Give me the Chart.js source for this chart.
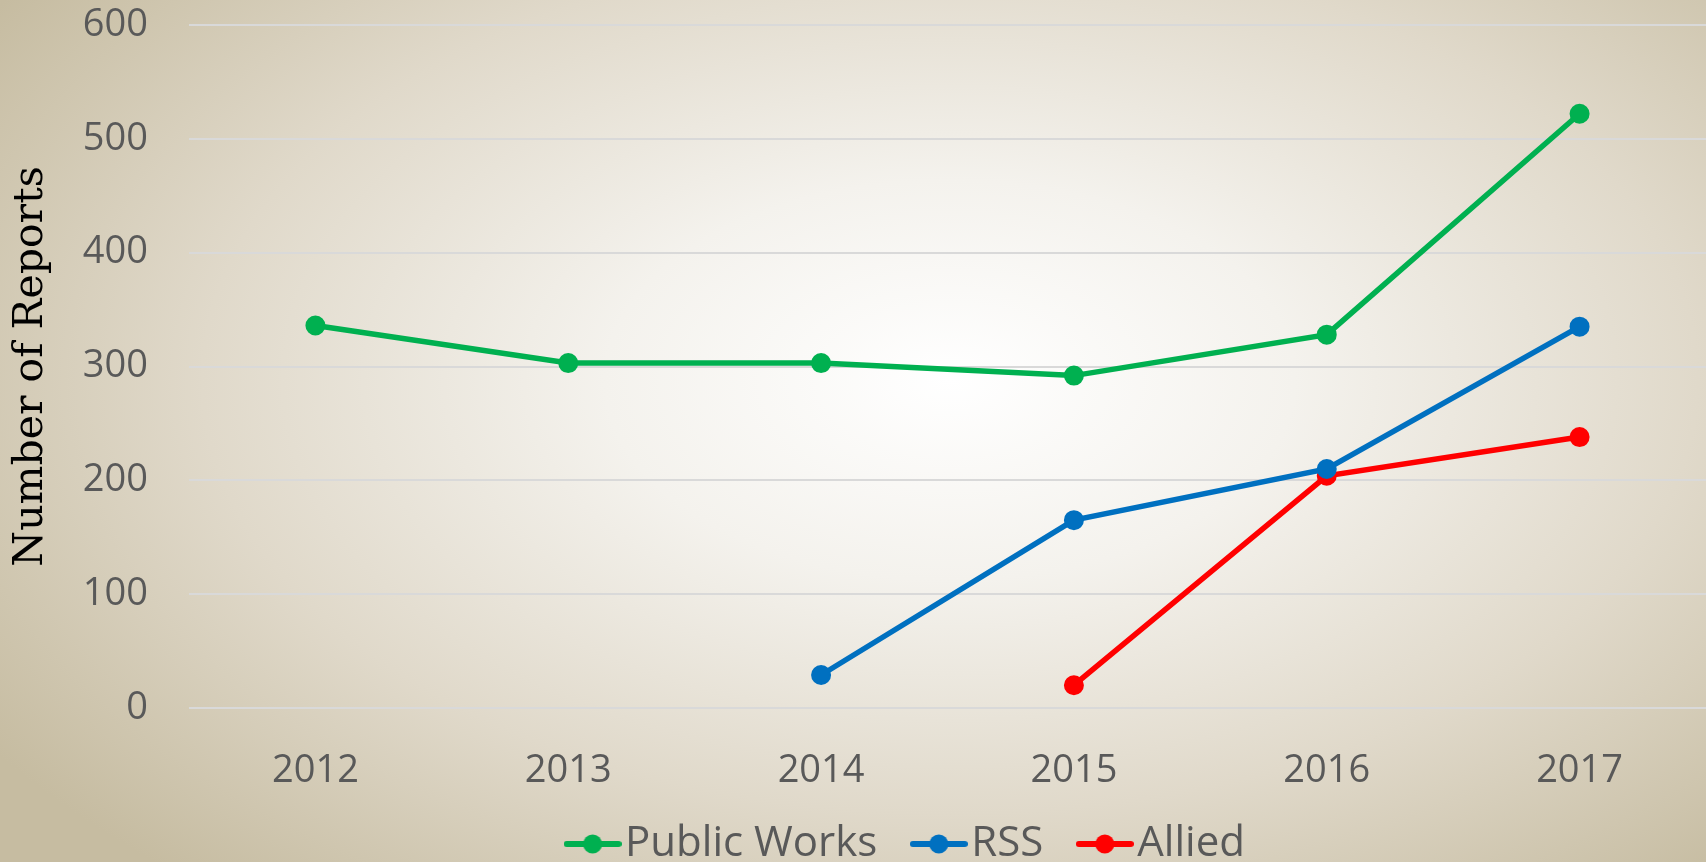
<!DOCTYPE html>
<html lang="en">
<head>
  <meta charset="UTF-8">
  <title>Number of Reports</title>
  <script src="https://cdn.jsdelivr.net/npm/chart.js"></script>
  <style>
    html, body { margin: 0; padding: 0; }
    .chart-wrap { width: 1706px; height: 862px; position: relative; }
  </style>
</head>
<body>

<div class="chart-wrap">
  <canvas id="chart"></canvas>
</div>

<script>

const years = ['2012', '2013', '2014', '2015', '2016', '2017'];
const publicWorks = [336, 303, 303, 292, 328, 522];
const rss = [null, null, 29, 165, 210, 335];
const allied = [null, null, null, 20, 204, 238];
const yTicks = [0, 100, 200, 300, 400, 500, 600];

const GREEN = '#00B050';
const BLUE = '#0070C0';
const RED = '#FF0000';

// little line-with-dot marker for the legend
function legendMarker(color){
  const c = document.createElement('canvas');
  c.width = 58;
  c.height = 22;
  const ctx = c.getContext('2d');
  ctx.strokeStyle = color;
  ctx.lineWidth = 6;
  ctx.lineCap = 'round';
  ctx.beginPath();
  ctx.moveTo(3, 11);
  ctx.lineTo(55, 11);
  ctx.stroke();
  ctx.fillStyle = color;
  ctx.beginPath();
  ctx.arc(29, 11, 9.5, 0, Math.PI * 2);
  ctx.fill();
  return c;
}

const backdrop = {
  id: 'backdrop',
  beforeDraw(chart){
    const {ctx, width, height} = chart;
    const cx = 950, cy = 380, sy = 0.58;
    ctx.save();
    ctx.translate(cx, cy);
    ctx.scale(1, sy);
    const g = ctx.createRadialGradient(0, 0, 0, 0, 0, 1150);
    g.addColorStop(0, '#ffffff');
    g.addColorStop(0.3, '#f4f2ed');
    g.addColorStop(0.65, '#e0d9ca');
    g.addColorStop(1, '#c6bca1');
    ctx.fillStyle = g;
    ctx.fillRect(-cx, -cy / sy, width, height / sy);
    ctx.restore();
  }
};

// legend sits under the plot, a bit right of the page centre, and lower than the layout puts it
const legendMove = {
  id: 'legendMove',
  afterLayout(chart){
    const lg = chart.legend;
    lg.top = 773;
    lg.bottom = chart.height;
    lg.left += 60;
    lg.right += 60;
  }
};

const data = {
  labels: years,
  datasets: [
    { label: 'Public Works', data: publicWorks, borderColor: GREEN, backgroundColor: GREEN },
    { label: 'RSS', data: rss, borderColor: BLUE, backgroundColor: BLUE },
    { label: 'Allied', data: allied, borderColor: RED, backgroundColor: RED }
  ]
};

const markers = [legendMarker(GREEN), legendMarker(BLUE), legendMarker(RED)];

const config = {
  type: 'line',
  data: data,
  plugins: [backdrop, legendMove],
  options: {
    responsive: true,
    maintainAspectRatio: false,
    animation: false,
    layout: { autoPadding: false, padding: { top: 25, right: 0, left: 0, bottom: 0 } },
    elements: {
      line: { borderWidth: 5.5, tension: 0 },
      point: { radius: 9, borderWidth: 2, hoverRadius: 9 }
    },
    plugins: {
      tooltip: { enabled: false },
      legend: {
        position: 'bottom',
        maxHeight: 74,
        labels: {
          usePointStyle: true,
          pointStyleWidth: 23,
          padding: 50,
          color: '#595959',
          font: { family: '"Open Sans"', size: 42 },
          generateLabels(chart){
            return chart.data.datasets.map((ds, i) => ({
              text: ds.label,
              pointStyle: markers[i],
              fillStyle: ds.borderColor,
              strokeStyle: ds.borderColor,
              lineWidth: 0,
              fontColor: '#595959',
              hidden: false,
              datasetIndex: i
            }));
          }
        }
      }
    },
    scales: {
      x: {
        offset: true,
        grid: { display: false },
        border: { display: false },
        ticks: {
          color: '#595959',
          padding: 32,
          font: { family: '"Open Sans"', size: 38 }
        },
        afterFit(scale){
          scale.height = 80;
          scale.paddingLeft = 0;
          scale.paddingRight = 0;
        }
      },
      y: {
        min: 0,
        max: 600,
        afterBuildTicks(scale){ scale.ticks = yTicks.map(v => ({ value: v })); },
        grid: { color: '#d9d9d9', lineWidth: 2, drawTicks: false },
        border: { display: false },
        ticks: {
          color: '#595959',
          padding: 41,
          font: { family: '"Open Sans"', size: 38 }
        },
        title: {
          display: true,
          text: 'Number of Reports',
          color: '#000000',
          padding: { top: 7, bottom: 0 },
          font: { family: '"DejaVu Serif"', size: 41 }
        },
        afterFit(scale){
          scale.width = 189;
          scale.paddingTop = 0;
          scale.paddingBottom = 0;
        }
      }
    }
  }
};

const myChart = new Chart(document.getElementById('chart'), config);

</script>
</body>
</html>
